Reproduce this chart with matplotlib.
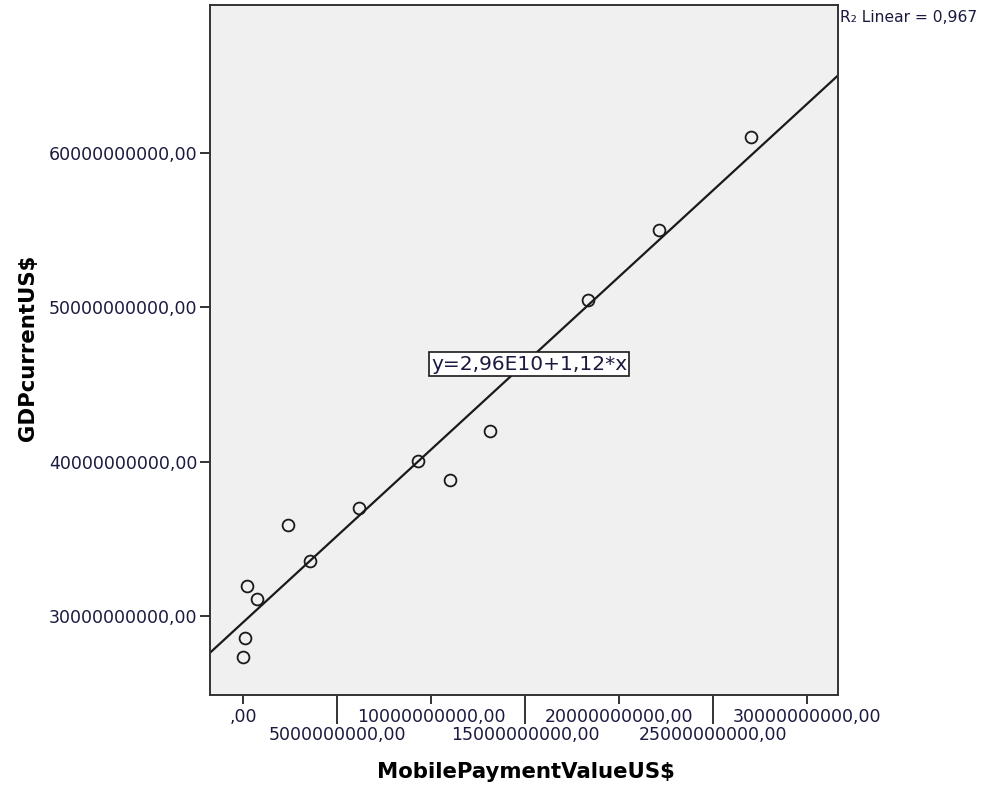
import matplotlib
matplotlib.use("Agg")
import matplotlib.pyplot as plt
import numpy as np
from matplotlib.ticker import FixedLocator, FuncFormatter

# values (units: US$)
mobile_payment = np.array([0.0, 0.09, 0.2, 0.73, 2.38, 3.55, 6.13, 9.27, 11.0, 13.12, 18.31, 22.09, 26.98]) * 1e9
gdp_current = np.array([27.34, 28.57, 31.94, 31.10, 35.90, 33.56, 37.00, 40.05, 38.81, 41.99, 50.48, 55.02, 61.04]) * 1e9

fit_intercept = 2.96e10
fit_slope = 1.12
r_squared = "0,967"

x_major = [0, 10e9, 20e9, 30e9]
x_minor = [5e9, 15e9, 25e9]
y_ticks = [30e9, 40e9, 50e9, 60e9]


def spss_fmt(v, pos=None):
    if v == 0:
        return ",00"
    return f"{int(round(v))},00"


plt.rcParams['font.family'] = 'DejaVu Sans'

fig = plt.figure(figsize=(9.94, 7.86), dpi=100)
ax = fig.add_axes([210 / 994, 1 - 695 / 786, (838 - 210) / 994, (695 - 5) / 786])
ax.set_facecolor('#f0f0f0')

ax.set_xlim(-1.77e9, 31.63e9)
ax.set_ylim(24.88e9, 69.59e9)

xs = np.array(ax.get_xlim())
ax.plot(xs, fit_intercept + fit_slope * xs, color='#1a1a1a', lw=1.6, zorder=2)
ax.plot(mobile_payment, gdp_current, 'o', ms=8.5, mfc='none', mec='#1a1a1a', mew=1.3, zorder=3)

for s in ax.spines.values():
    s.set_color('#333333')
    s.set_linewidth(1.4)

ax.xaxis.set_major_locator(FixedLocator(x_major))
ax.xaxis.set_minor_locator(FixedLocator(x_minor))
ax.xaxis.set_major_formatter(FuncFormatter(spss_fmt))
ax.xaxis.set_minor_formatter(FuncFormatter(spss_fmt))
ax.yaxis.set_major_locator(FixedLocator(y_ticks))
ax.yaxis.set_major_formatter(FuncFormatter(spss_fmt))

ax.tick_params(axis='x', which='major', length=6.5, width=1.4, color='#333333', pad=3, labelsize=12.5, labelcolor='#1a1a40')
ax.tick_params(axis='x', which='minor', length=21, width=1.4, color='#333333', pad=1, labelsize=12.5, labelcolor='#1a1a40')
ax.tick_params(axis='y', which='major', length=7, width=1.4, color='#333333', pad=2, labelsize=12.5, labelcolor='#1a1a40')

fig.text(526 / 994, 1 - 772 / 786, "MobilePaymentValueUS$", ha='center', va='center', fontsize=15.3, fontweight='bold')
fig.text(28 / 994, 1 - 348 / 786, "GDPcurrentUS$", ha='center', va='center', rotation=90, fontsize=15.3, fontweight='bold')

fig.text(840 / 994, 1 - 18 / 786, "R\u2082 Linear = " + r_squared, ha='left', va='center', fontsize=11.2, color='#1a1a40')

ax.text((529 - 210) / 628, (695 - 364) / 690, "y=2,96E10+1,12*x", transform=ax.transAxes,
        ha='center', va='center', fontsize=14.5, color='#1a1a40', zorder=4,
        bbox=dict(boxstyle='square,pad=0.12', fc='white', ec='#1a1a1a', lw=1.2))

fig.savefig("out.png", dpi=100)
